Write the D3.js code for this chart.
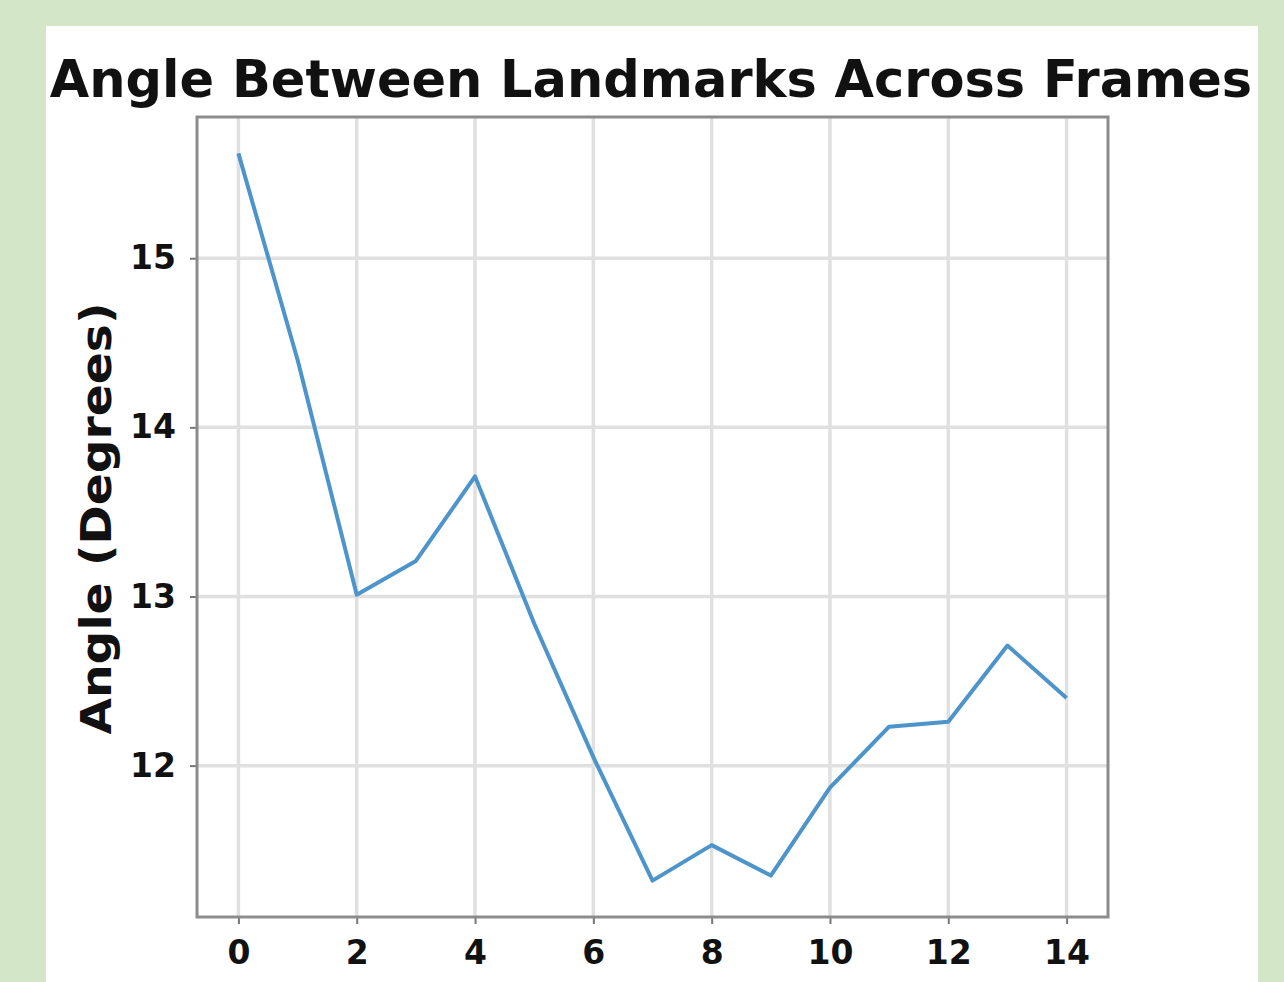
<!DOCTYPE html>
<html>
<head>
<meta charset="utf-8">
<script src="https://cdn.jsdelivr.net/npm/d3@7"></script>
<style>
  html, body { margin: 0; padding: 0; background: #d3e6c8; }
  svg { display: block; }
</style>
</head>
<body>
<div id="chart"></div>
<script>
// angle per frame
var frames = [0, 1, 2, 3, 4, 5, 6, 7, 8, 9, 10, 11, 12, 13, 14];
var angles = [15.62, 14.40, 13.01, 13.21, 13.71, 12.84, 12.05, 11.32, 11.53, 11.35, 11.87, 12.23, 12.26, 12.71, 12.40];
var xTicks = [0, 2, 4, 6, 8, 10, 12, 14];
var yTicks = [12, 13, 14, 15];

var W = 1284, H = 982;
var svg = d3.select("#chart").append("svg")
    .attr("width", W)
    .attr("height", H);

// white panel
svg.append("rect")
    .attr("x", 46).attr("y", 26)
    .attr("width", 1212).attr("height", H - 26)
    .attr("fill", "white");

var pLeft = 197, pRight = 1108, pTop = 117, pBottom = 917;

var xmin = d3.min(frames), xmax = d3.max(frames);
var ymin = d3.min(angles), ymax = d3.max(angles);
var padX = (xmax - xmin) * 0.05, padY = (ymax - ymin) * 0.05;

var x = d3.scaleLinear().domain([xmin - padX, xmax + padX]).range([pLeft, pRight]);
var y = d3.scaleLinear().domain([ymin - padY, ymax + padY]).range([pBottom, pTop]);

// grid
svg.append("g").selectAll("line").data(xTicks).join("line")
    .attr("x1", d => x(d)).attr("x2", d => x(d))
    .attr("y1", pTop).attr("y2", pBottom)
    .attr("stroke", "#e0e0e0").attr("stroke-width", 3.5);
svg.append("g").selectAll("line").data(yTicks).join("line")
    .attr("x1", pLeft).attr("x2", pRight)
    .attr("y1", d => y(d)).attr("y2", d => y(d))
    .attr("stroke", "#e0e0e0").attr("stroke-width", 3.5);

// axes
var xAxis = d3.axisBottom(x).tickValues(xTicks).tickFormat(d3.format("d")).tickSize(7).tickPadding(17);
var yAxis = d3.axisLeft(y).tickValues(yTicks).tickFormat(d3.format("d")).tickSize(7).tickPadding(14);

var gx = svg.append("g").attr("transform", "translate(0," + pBottom + ")").call(xAxis);
var gy = svg.append("g").attr("transform", "translate(" + pLeft + ",0)").call(yAxis);

[gx, gy].forEach(function (g) {
  g.select(".domain").remove();
  g.selectAll(".tick line").attr("stroke", "#777").attr("stroke-width", 2);
  g.selectAll(".tick text")
    .attr("fill", "#111")
    .style("font-family", "DejaVu Sans")
    .style("font-weight", "bold")
    .style("font-size", "33px");
});

// frame
svg.append("rect")
    .attr("x", pLeft).attr("y", pTop)
    .attr("width", pRight - pLeft).attr("height", pBottom - pTop)
    .attr("fill", "none")
    .attr("stroke", "#8c8c8c").attr("stroke-width", 3);

// line
var line = d3.line().x((d, i) => x(frames[i])).y(d => y(d));
svg.append("path")
    .datum(angles)
    .attr("d", line)
    .attr("fill", "none")
    .attr("stroke", "#4d94cb")
    .attr("stroke-width", 4)
    .attr("stroke-linejoin", "round");

// title
svg.append("text")
    .attr("x", 651)
    .attr("y", 97)
    .attr("text-anchor", "middle")
    .style("font-family", "DejaVu Sans")
    .style("font-weight", "bold")
    .style("font-size", "51px")
    .attr("fill", "#111")
    .text("Angle Between Landmarks Across Frames");

// y label
svg.append("text")
    .attr("transform", "translate(111," + ((300 + 737) / 2) + ") rotate(-90)")
    .attr("text-anchor", "middle")
    .attr("textLength", 432)
    .attr("lengthAdjust", "spacingAndGlyphs")
    .style("font-family", "DejaVu Sans")
    .style("font-weight", "bold")
    .style("font-size", "42px")
    .attr("fill", "#111")
    .text("Angle (Degrees)");
</script>
</body>
</html>
